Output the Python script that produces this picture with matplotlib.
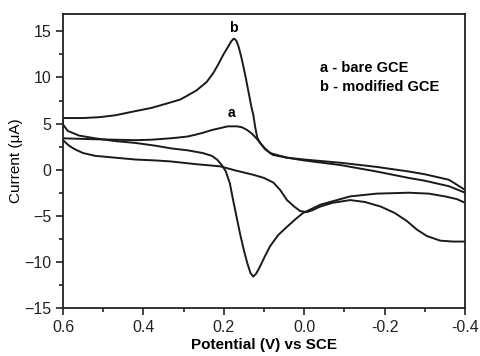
import matplotlib
matplotlib.use("Agg")
import matplotlib.pyplot as plt
from matplotlib.ticker import MultipleLocator

plt.rcParams["font.family"] = ["Liberation Sans", "DejaVu Sans"]

# curve b (modified GCE): forward sweep -0.4 -> 0.6 V, then return 0.6 -> -0.4 V
b_fwd_x = [-0.40, -0.36, -0.30, -0.26, -0.18, -0.09, 0.00, 0.043, 0.078, 0.097, 0.11,
           0.117, 0.122, 0.127, 0.131, 0.139, 0.147, 0.156, 0.163, 0.168, 0.172, 0.176,
           0.182, 0.19, 0.201, 0.213, 0.226, 0.243, 0.268, 0.292, 0.309, 0.34, 0.38,
           0.426, 0.47, 0.508, 0.55, 0.60]
b_fwd_y = [-2.2, -1.1, -0.5, -0.2, 0.3, 0.75, 1.1, 1.3, 1.6, 2.2, 2.9,
           3.5, 4.6, 6.0, 6.7, 8.5, 10.3, 12.1, 13.3, 13.9, 14.15, 14.2,
           13.9, 13.3, 12.5, 11.5, 10.5, 9.5, 8.6, 8.0, 7.6, 7.2, 6.7,
           6.3, 5.9, 5.7, 5.6, 5.6]
b_ret_x = [0.60, 0.588, 0.56, 0.52, 0.47, 0.42, 0.37, 0.33, 0.29, 0.252, 0.23, 0.217,
           0.205, 0.195, 0.185, 0.177, 0.168, 0.16, 0.151, 0.142, 0.134, 0.127, 0.12,
           0.11, 0.098, 0.085, 0.065, 0.043, 0.02, 0.003, -0.04, -0.114, -0.18, -0.26,
           -0.31, -0.35, -0.38, -0.40]
b_ret_y = [4.9, 4.2, 3.7, 3.4, 3.1, 2.9, 2.6, 2.3, 2.1, 1.8, 1.5, 1.1,
           0.5, -0.2, -1.5, -3.3, -5.2, -6.9, -8.6, -10.1, -11.2, -11.6, -11.3,
           -10.5, -9.4, -8.3, -7.1, -6.2, -5.3, -4.7, -3.8, -2.9, -2.6, -2.5,
           -2.6, -2.9, -3.2, -3.6]

# curve a (bare GCE)
a_fwd_x = [-0.40, -0.36, -0.30, -0.26, -0.18, -0.09, 0.00, 0.043, 0.085, 0.10, 0.117,
           0.13, 0.142, 0.155, 0.167, 0.19, 0.21, 0.23, 0.252, 0.27, 0.29, 0.31, 0.334,
           0.38, 0.42, 0.47, 0.52, 0.56, 0.60]
a_fwd_y = [-2.5, -1.8, -1.2, -0.9, -0.2, 0.5, 1.0, 1.3, 1.8, 2.4, 3.3,
           3.9, 4.3, 4.6, 4.7, 4.7, 4.5, 4.3, 4.0, 3.8, 3.6, 3.5, 3.4,
           3.25, 3.2, 3.25, 3.3, 3.35, 3.4]
a_ret_x = [0.60, 0.585, 0.57, 0.55, 0.52, 0.47, 0.42, 0.37, 0.334, 0.27, 0.209, 0.17,
           0.127, 0.10, 0.077, 0.06, 0.043, 0.025, 0.01, -0.007, -0.02, -0.04, -0.07,
           -0.114, -0.15, -0.19, -0.225, -0.256, -0.28, -0.305, -0.338, -0.37, -0.40]
a_ret_y = [3.2, 2.6, 2.2, 1.8, 1.5, 1.3, 1.1, 1.0, 0.9, 0.6, 0.36, -0.1,
           -0.55, -0.9, -1.4, -2.2, -3.3, -4.0, -4.5, -4.6, -4.4, -4.0, -3.6,
           -3.3, -3.5, -4.0, -4.7, -5.6, -6.5, -7.2, -7.7, -7.8, -7.8]

fig = plt.figure(figsize=(4.81, 3.56), dpi=100)
ax = fig.add_axes([0.131, 0.135, 0.836, 0.826])

for xs, ys in [(b_fwd_x + b_ret_x, b_fwd_y + b_ret_y),
               (a_fwd_x + a_ret_x, a_fwd_y + a_ret_y)]:
    ax.plot(xs, ys, color="#1a1a1a", lw=1.4, solid_joinstyle="round")

ax.set_xlim(0.6, -0.4)
ax.set_ylim(-15, 16.9)
ax.xaxis.set_major_locator(MultipleLocator(0.2))
ax.xaxis.set_minor_locator(MultipleLocator(0.1))
ax.yaxis.set_major_locator(MultipleLocator(5))
ax.yaxis.set_minor_locator(MultipleLocator(2.5))
ax.tick_params(which="both", direction="out", top=False, right=False, width=1.2,
               labelsize=11.5, colors="#222")
ax.tick_params(which="major", length=5)
ax.tick_params(which="minor", length=3)
ax.xaxis.set_major_formatter(plt.FuncFormatter(lambda v, _: f"{v:.1f}"))
for s in ax.spines.values():
    s.set_linewidth(1.3)
    s.set_color("#222")

ax.text(0.177, 15.4, "b", fontsize=10, fontweight="bold", ha="center", va="center")
ax.text(0.18, 6.2, "a", fontsize=10, fontweight="bold", ha="center", va="center")
ax.text(-0.04, 11.0, "a - bare GCE", fontsize=10.5, fontweight="bold", va="center")
ax.text(-0.04, 9.0, "b - modified GCE", fontsize=10.5, fontweight="bold", va="center")

ax.set_xlabel("Potential (V) vs SCE", fontsize=11, fontweight="bold", labelpad=2)
ax.set_ylabel("Current (μA)", fontsize=11, labelpad=1)

fig.savefig("out.png", dpi=100)
